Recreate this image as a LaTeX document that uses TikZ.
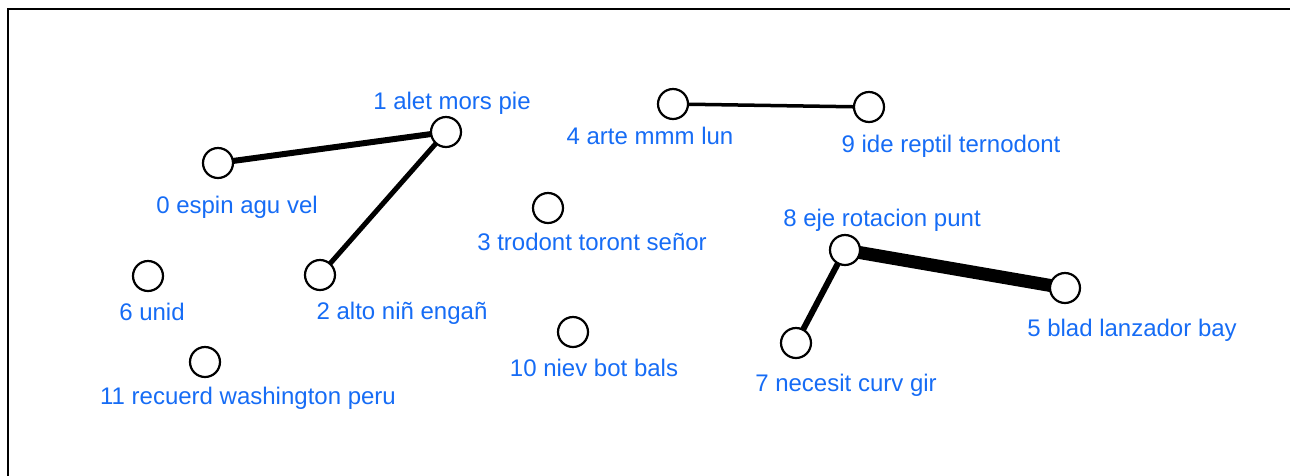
\documentclass[tikz,border=0pt]{standalone}
\usepackage{fontspec}
\setmainfont{Liberation Sans}
\usepackage{xcolor}
\usepackage{tikz}
\usetikzlibrary{backgrounds}

\definecolor{lblblue}{RGB}{22,108,245}

\begin{document}
\begin{tikzpicture}[x=1pt, y=-1pt,
    vertex/.style={circle, draw=black, line width=2.2pt, fill=white, minimum size=30pt, inner sep=0pt},
    lbl/.style={text=lblblue, font=\fontsize{24}{28}\selectfont, anchor=base, inner sep=0pt},
    link/.style={draw=black}]
    \useasboundingbox (0,0) rectangle (1290,475);

    % Frame
    \draw[line width=2.2pt] (8,480) -- (8,9) -- (1295,9);

    % Vertices
    \node[vertex] (v0) at (218,163) {};
    \node[vertex] (v1) at (446,132) {};
    \node[vertex] (v2) at (320,275) {};
    \node[vertex] (v3) at (548,208) {};
    \node[vertex] (v4) at (673,104) {};
    \node[vertex] (v5) at (1065,288) {};
    \node[vertex] (v6) at (148,276) {};
    \node[vertex] (v7) at (796,343) {};
    \node[vertex] (v8) at (845,250) {};
    \node[vertex] (v9) at (869,107) {};
    \node[vertex] (v10) at (573,332) {};
    \node[vertex] (v11) at (205,362) {};

    % Labels
    \node[lbl] (l0) at (237,213) {0 espin agu vel};
    \node[lbl] (l1) at (452,109) {1 alet mors pie};
    \node[lbl] (l2) at (402,319) {2 alto niñ engañ};
    \node[lbl] (l3) at (592,250) {3 trodont toront señor};
    \node[lbl] (l4) at (650,144) {4 arte mmm lun};
    \node[lbl] (l5) at (1132,336) {5 blad lanzador bay};
    \node[lbl] (l6) at (152,320) {6 unid};
    \node[lbl] (l7) at (846,391) {7 necesit curv gir};
    \node[lbl] (l8) at (882,226) {8 eje rotacion punt};
    \node[lbl] (l9) at (951,152) {9 ide reptil ternodont};
    \node[lbl] (l10) at (594,376) {10 niev bot bals};
    \node[lbl] (l11) at (248,404) {11 recuerd washington peru};

    % Links
    \begin{pgfonlayer}{background}
        \draw[link, line width=6pt] (v0.center) -- (v1.center);
        \draw[link, line width=5pt] (v1.center) -- (v2.center);
        \draw[link, line width=3.5pt] (v4.center) -- (v9.center);
        \draw[link, line width=13pt] (v8.center) -- (v5.center);
        \draw[link, line width=6pt] (v8.center) -- (v7.center);
    \end{pgfonlayer}
\end{tikzpicture}
\end{document}
